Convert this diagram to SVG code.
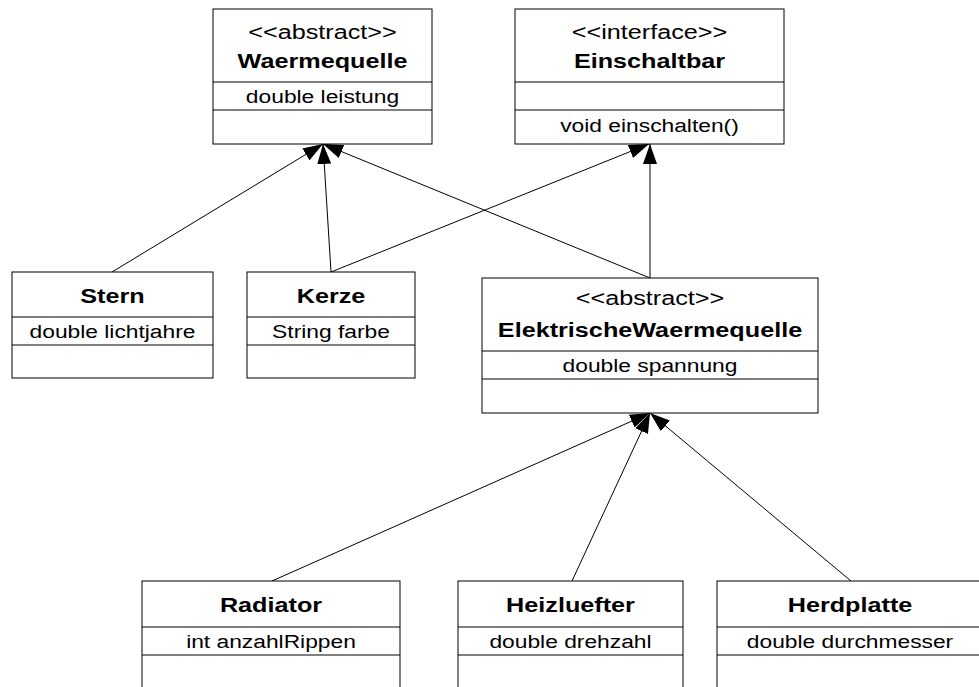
<svg xmlns="http://www.w3.org/2000/svg" width="979" height="687" viewBox="0 0 979 687">
<style>
rect.box{fill:#fff;stroke:#000;stroke-width:1}
line.div{stroke:#000;stroke-width:1}
text{font-family:"Liberation Sans",Arial,sans-serif;text-anchor:middle;fill:#000}
.st{font-size:21px}
.ti{font-size:21px;font-weight:bold}
.at{font-size:19px}
.con line{stroke:#000;stroke-width:1;marker-end:url(#gen)}
</style>
<defs>
<marker id="gen" viewBox="0 0 20 14" refX="20" refY="7" markerWidth="20" markerHeight="14" markerUnits="userSpaceOnUse" orient="auto">
<path d="M0,0 L20,7 L0,14 z" fill="#000"/>
</marker>
</defs>
<rect width="979" height="687" fill="#fff"/>
<g class="con" id="connectors">
<line x1="112" y1="272" x2="323" y2="144"/>
<line x1="331" y1="272" x2="323" y2="144"/>
<line x1="650" y1="278" x2="323" y2="144"/>
<line x1="331" y1="272" x2="649" y2="144"/>
<line x1="650" y1="278" x2="650" y2="144"/>
<line x1="272" y1="581" x2="650" y2="413"/>
<line x1="572" y1="581" x2="650" y2="413"/>
<line x1="851" y1="581" x2="650" y2="413"/>
</g>
<g id="Waermequelle">
<rect class="box" x="213" y="9" width="219" height="135"/>
<line class="div" x1="213" y1="82" x2="432" y2="82"/>
<line class="div" x1="213" y1="110" x2="432" y2="110"/>
<text class="st" transform="translate(322.5,39) scale(1.2,1)">&lt;&lt;abstract&gt;&gt;</text>
<text class="ti" transform="translate(322.5,68) scale(1.2,1)">Waermequelle</text>
<text class="at" transform="translate(322.5,103) scale(1.2,1)">double leistung</text>
</g>
<g id="Einschaltbar">
<rect class="box" x="515" y="9" width="269" height="135"/>
<line class="div" x1="515" y1="82" x2="784" y2="82"/>
<line class="div" x1="515" y1="110" x2="784" y2="110"/>
<text class="st" transform="translate(649.5,39) scale(1.2,1)">&lt;&lt;interface&gt;&gt;</text>
<text class="ti" transform="translate(649.5,68) scale(1.2,1)">Einschaltbar</text>
<text class="at" transform="translate(649.5,132) scale(1.2,1)">void einschalten()</text>
</g>
<g id="Stern">
<rect class="box" x="12" y="272" width="201" height="106"/>
<line class="div" x1="12" y1="317" x2="213" y2="317"/>
<line class="div" x1="12" y1="345" x2="213" y2="345"/>
<text class="ti" transform="translate(112.5,303) scale(1.2,1)">Stern</text>
<text class="at" transform="translate(112.5,338) scale(1.2,1)">double lichtjahre</text>
</g>
<g id="Kerze">
<rect class="box" x="247" y="272" width="168" height="106"/>
<line class="div" x1="247" y1="317" x2="415" y2="317"/>
<line class="div" x1="247" y1="345" x2="415" y2="345"/>
<text class="ti" transform="translate(331,303) scale(1.2,1)">Kerze</text>
<text class="at" transform="translate(331,338) scale(1.2,1)">String farbe</text>
</g>
<g id="ElektrischeWaermequelle">
<rect class="box" x="482" y="278" width="336" height="135"/>
<line class="div" x1="482" y1="351" x2="818" y2="351"/>
<line class="div" x1="482" y1="379" x2="818" y2="379"/>
<text class="st" transform="translate(650,305) scale(1.2,1)">&lt;&lt;abstract&gt;&gt;</text>
<text class="ti" transform="translate(650,337) scale(1.2,1)">ElektrischeWaermequelle</text>
<text class="at" transform="translate(650,372) scale(1.2,1)">double spannung</text>
</g>
<g id="Radiator">
<rect class="box" x="142" y="581" width="258" height="130"/>
<line class="div" x1="142" y1="627" x2="400" y2="627"/>
<line class="div" x1="142" y1="655" x2="400" y2="655"/>
<text class="ti" transform="translate(271,612) scale(1.2,1)">Radiator</text>
<text class="at" transform="translate(271,648) scale(1.2,1)">int anzahlRippen</text>
</g>
<g id="Heizluefter">
<rect class="box" x="458" y="581" width="225" height="130"/>
<line class="div" x1="458" y1="627" x2="683" y2="627"/>
<line class="div" x1="458" y1="655" x2="683" y2="655"/>
<text class="ti" transform="translate(570.5,612) scale(1.2,1)">Heizluefter</text>
<text class="at" transform="translate(570.5,648) scale(1.2,1)">double drehzahl</text>
</g>
<g id="Herdplatte">
<rect class="box" x="717" y="581" width="266" height="130"/>
<line class="div" x1="717" y1="627" x2="983" y2="627"/>
<line class="div" x1="717" y1="655" x2="983" y2="655"/>
<text class="ti" transform="translate(850,612) scale(1.2,1)">Herdplatte</text>
<text class="at" transform="translate(850,648) scale(1.2,1)">double durchmesser</text>
</g>
</svg>
